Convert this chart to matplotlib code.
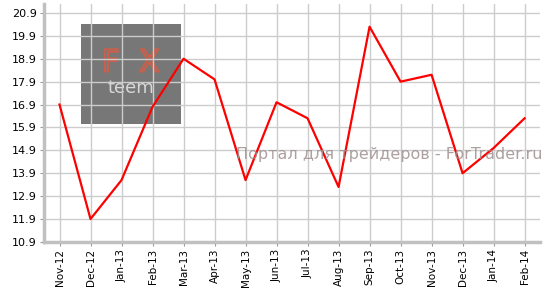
import numpy as np
import matplotlib.pyplot as plt
import matplotlib.patheffects as pe
from matplotlib.patches import Rectangle

months = ['Nov-12', 'Dec-12', 'Jan-13', 'Feb-13', 'Mar-13', 'Apr-13', 'May-13', 'Jun-13',
          'Jul-13', 'Aug-13', 'Sep-13', 'Oct-13', 'Nov-13', 'Dec-13', 'Jan-14', 'Feb-14']
values = [16.9, 11.9, 13.6, 16.8, 18.9, 18.0, 13.6, 17.0,
          16.3, 13.3, 20.3, 17.9, 18.2, 13.9, 15.0, 16.3]
yticks = [10.9, 11.9, 12.9, 13.9, 14.9, 15.9, 16.9, 17.9, 18.9, 19.9, 20.9]

fig = plt.figure(figsize=(5.5, 2.88), dpi=100)
ax = fig.add_axes([0.08, 0.16, 0.902, 0.826])

x = np.arange(len(months))
ax.plot(x, values, color='red', lw=1.6, zorder=3)

ax.set_xlim(-0.5, 15.5)
ax.set_ylim(10.9, 21.29)
ax.set_xticks(x)
ax.set_xticklabels(months, rotation=90, fontsize=7.5)
ax.set_yticks(yticks)
ax.set_yticklabels(['%.1f' % v for v in yticks], fontsize=8)
ax.grid(True, color='#cccccc', lw=1)
ax.set_axisbelow('line')

for s in ['top', 'right']:
    ax.spines[s].set_visible(False)
for s in ['left', 'bottom']:
    ax.spines[s].set_color('#c0c0c0')
    ax.spines[s].set_linewidth(2.5)
ax.tick_params(axis='both', color='#999999', length=3, pad=2)

# watermark logo box (under the grid)
box = Rectangle((0.147, 0.569), 0.182, 0.347, transform=fig.transFigure,
                facecolor='#777777', edgecolor='none', zorder=0.2)
ax.add_patch(box)
ax.text(0.238, 0.781, 'F  X', transform=fig.transFigure, fontsize=22, color='none',
        ha='center', va='center', zorder=0.3,
        path_effects=[pe.withStroke(linewidth=1.5, foreground='#c8604c')])
ax.text(0.238, 0.694, 'teem', transform=fig.transFigure, fontsize=13, color='#d8d8d8',
        ha='center', va='center', zorder=0.3)

fig.text(0.986, 0.462, 'Портал для трейдеров - ForTrader.ru', fontsize=11.5,
         color='#a09090', alpha=0.85, ha='right', va='center', zorder=5)

fig.savefig('out.png', dpi=100)
